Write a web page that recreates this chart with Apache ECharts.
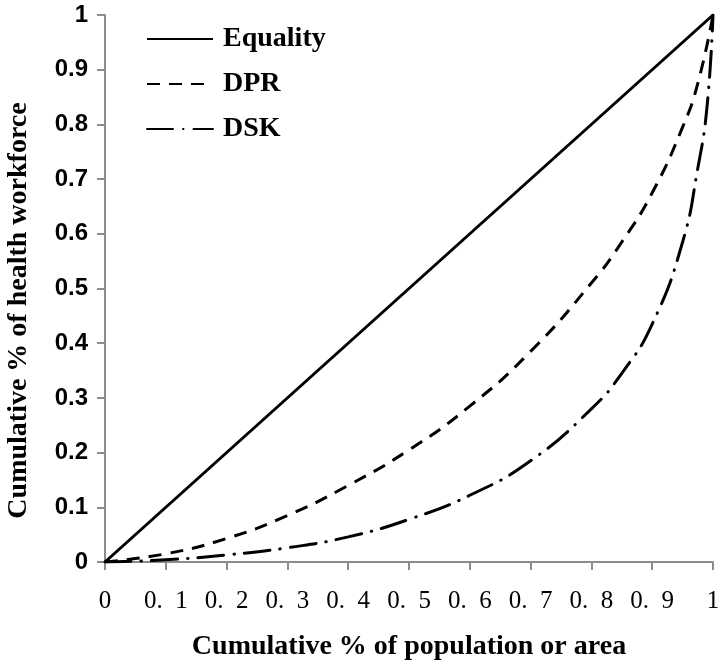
<!DOCTYPE html>
<html>
<head>
<meta charset="utf-8">
<script src="https://cdn.jsdelivr.net/npm/echarts@6/dist/echarts.min.js"></script>
<style>
  html, body { margin: 0; padding: 0; background: #fff; }
  #chart { width: 728px; height: 669px; }
</style>
</head>
<body>
<div id="chart"></div>
<script>
// values
const seriesNames = ['Equality', 'DPR', 'DSK']
const equalityX = [0, 1]
const equalityY = [0, 1]
const dprX = [0, 0.1, 0.2, 0.3, 0.4, 0.5, 0.6, 0.7, 0.8, 0.85, 0.9, 0.95, 0.975, 1]
const dprY = [0, 0.015, 0.043, 0.085, 0.14, 0.205, 0.285, 0.385, 0.51, 0.585, 0.675, 0.795, 0.875, 1]
const dskX = [0, 0.1, 0.2, 0.3, 0.4, 0.5, 0.6, 0.7, 0.8, 0.85, 0.9, 0.95, 0.975, 0.99, 1]
const dskY = [0, 0.004, 0.013, 0.026, 0.046, 0.078, 0.122, 0.185, 0.28, 0.345, 0.435, 0.585, 0.72, 0.83, 1]
const xTitle = 'Cumulative % of population or area'
const yTitle = 'Cumulative % of health workforce'

const pairs = (xs, ys) => xs.map((x, i) => [x, ys[i]])

const chart = echarts.init(document.getElementById('chart'))

const axisColor = '#8c8c8c'
const serif = '"Liberation Serif", "Times New Roman", serif'

chart.setOption({
  animation: false,
  grid: { left: 105, right: 15, top: 15, bottom: 107, outerBoundsMode: 'none', containLabel: false },
  legend: {
    orient: 'vertical',
    left: 141,
    top: 20,
    itemWidth: 66,
    itemHeight: 28,
    itemGap: 17,
    data: seriesNames,
    itemStyle: { opacity: 0 },
    textStyle: { fontFamily: serif, fontWeight: 'bold', fontSize: 28, color: '#000', padding: [0, 0, 0, 5] }
  },
  xAxis: {
    type: 'value',
    min: 0,
    max: 1,
    interval: 0.1,
    name: xTitle,
    nameLocation: 'middle',
    nameGap: 71,
    nameTextStyle: { fontFamily: serif, fontWeight: 'bold', fontSize: 28, color: '#000' },
    axisLine: { lineStyle: { color: axisColor, width: 2 } },
    axisTick: { show: true, length: 8, lineStyle: { color: axisColor, width: 2 } },
    splitLine: { show: false },
    axisLabel: {
      margin: 27,
      fontFamily: serif,
      fontSize: 25,
      color: '#000',
      formatter: v => (v === 0 || v === 1) ? String(v) : v.toFixed(1).replace('.', '.  ')
    }
  },
  yAxis: {
    type: 'value',
    min: 0,
    max: 1,
    interval: 0.1,
    name: yTitle,
    nameLocation: 'middle',
    nameRotate: 90,
    nameGap: 72,
    nameTextStyle: { fontFamily: serif, fontWeight: 'bold', fontSize: 28, color: '#000', padding: [0, 44, 0, 0] },
    axisLine: { show: true, lineStyle: { color: axisColor, width: 2 } },
    axisTick: { show: true, length: 8, lineStyle: { color: axisColor, width: 2 } },
    splitLine: { show: false },
    axisLabel: {
      margin: 17,
      fontFamily: '"Liberation Sans", Arial, sans-serif',
      fontWeight: 'bold',
      fontSize: 24,
      color: '#000'
    }
  },
  series: [
    {
      name: 'Equality',
      type: 'line',
      symbol: 'none',
      data: pairs(equalityX, equalityY),
      lineStyle: { color: '#000', width: 3 },
      itemStyle: { color: '#000' }
    },
    {
      name: 'DPR',
      type: 'line',
      symbol: 'none',
      smooth: 0.5,
      data: pairs(dprX, dprY),
      lineStyle: { color: '#000', width: 3, type: [13, 9] },
      itemStyle: { color: '#000' }
    },
    {
      name: 'DSK',
      type: 'line',
      symbol: 'none',
      smooth: 0.5,
      data: pairs(dskX, dskY),
      lineStyle: { color: '#000', width: 3, type: [26, 10, 0.5, 10], cap: 'round' },
      itemStyle: { color: '#000' }
    }
  ]
})
</script>
</body>
</html>
